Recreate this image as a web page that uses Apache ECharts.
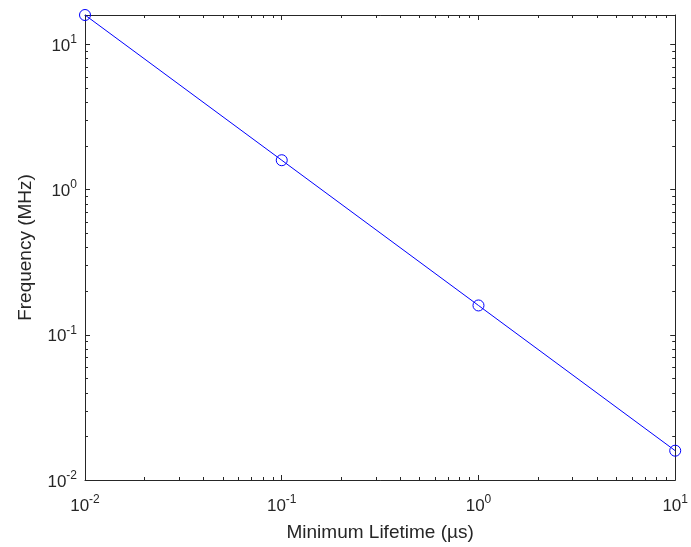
<!DOCTYPE html>
<html>
<head>
<meta charset="utf-8">
<script src="https://cdn.jsdelivr.net/npm/echarts@6/dist/echarts.min.js"></script>
<style>
  html, body { margin: 0; padding: 0; background: #fff; }
  #chart { width: 691px; height: 547px; }
</style>
</head>
<body>
<div id="chart"></div>
<script>
// data
var lifetimes = [0.01, 0.1, 1, 10];            // µs
var frequencies = [15.915, 1.5915, 0.15915, 0.015915]; // MHz
var xRange = [0.01, 10];
var yRange = [0.01, 15.915];

var axisColor = '#262626';
var fontFam = '"Liberation Sans", Arial, sans-serif';

// label like 10^-2 with a raised exponent
function powLabel(v) {
  var e = Math.log10(v);
  if (Math.abs(e - Math.round(e)) > 1e-6) return '';
  return '{b|10}{s|' + Math.round(e) + '}';
}
var richLabel = {
  b: { fontSize: 17, color: axisColor, fontFamily: fontFam, verticalAlign: 'bottom' },
  s: { fontSize: 12, color: axisColor, fontFamily: fontFam, verticalAlign: 'bottom', padding: [0, 0, 9, 0] }
};

function logAxis(extra) {
  var base = {
    type: 'log',
    logBase: 10,
    axisLine: { show: true, onZero: false, lineStyle: { color: axisColor, width: 1 } },
    axisTick: { show: true, inside: true, length: 5, lineStyle: { color: axisColor, width: 1 } },
    splitLine: { show: false },
    minorTick: { show: false },
    axisLabel: { show: false }
  };
  for (var k in extra) base[k] = extra[k];
  return base;
}

var chart = echarts.init(document.getElementById('chart'));

var option = {
  animation: false,
  backgroundColor: '#fff',
  grid: { left: 85, right: 15, top: 15, bottom: 66, containLabel: false },
  xAxis: [
    logAxis({
      min: xRange[0], max: xRange[1], position: 'bottom',
      name: 'Minimum Lifetime (µs)', nameLocation: 'middle', nameGap: 43,
      nameTextStyle: { fontSize: 19, color: axisColor, fontFamily: fontFam },
      axisLabel: { show: true, margin: 14, formatter: powLabel, rich: richLabel }
    }),
    logAxis({ min: xRange[0], max: xRange[1], position: 'top' })
  ],
  yAxis: [
    logAxis({
      min: yRange[0], max: yRange[1], position: 'left',
      name: 'Frequency (MHz)', nameLocation: 'middle', nameGap: 50,
      nameTextStyle: { fontSize: 19, color: axisColor, fontFamily: fontFam },
      axisLabel: { show: true, margin: 8, formatter: powLabel, rich: richLabel }
    }),
    logAxis({ min: yRange[0], max: yRange[1], position: 'right' })
  ],
  series: [{
    type: 'line',
    data: lifetimes.map(function (t, i) { return [t, frequencies[i]]; }),
    symbol: 'circle',
    symbolSize: 11,
    clip: false,
    lineStyle: { color: '#0000ff', width: 1 },
    itemStyle: { color: 'rgba(0,0,0,0)', borderColor: '#0000ff', borderWidth: 1 }
  }]
};
chart.setOption(option);

// minor ticks 2..9 per decade, on all four sides, pointing inward
function minorValues(lo, hi) {
  var out = [];
  for (var d = Math.floor(Math.log10(lo)); d <= Math.ceil(Math.log10(hi)); d++) {
    for (var k = 2; k <= 9; k++) {
      var v = k * Math.pow(10, d);
      if (v > lo && v < hi) out.push(v);
    }
  }
  return out;
}
var gridRect = chart.getModel().getComponent('grid').coordinateSystem.getRect();
var ticks = [];
var len = 3;
var tickStyle = { stroke: axisColor, lineWidth: 1 };
minorValues(xRange[0], xRange[1]).forEach(function (v) {
  var x = Math.round(chart.convertToPixel({ xAxisIndex: 0 }, v)) + 0.5;
  var yb = gridRect.y + gridRect.height, yt = gridRect.y;
  ticks.push({ type: 'line', silent: true, shape: { x1: x, y1: yb, x2: x, y2: yb - len }, style: tickStyle });
  ticks.push({ type: 'line', silent: true, shape: { x1: x, y1: yt, x2: x, y2: yt + len }, style: tickStyle });
});
minorValues(yRange[0], yRange[1]).forEach(function (v) {
  var y = Math.round(chart.convertToPixel({ yAxisIndex: 0 }, v)) + 0.5;
  var xl = gridRect.x, xr = gridRect.x + gridRect.width;
  ticks.push({ type: 'line', silent: true, shape: { x1: xl, y1: y, x2: xl + len, y2: y }, style: tickStyle });
  ticks.push({ type: 'line', silent: true, shape: { x1: xr, y1: y, x2: xr - len, y2: y }, style: tickStyle });
});
chart.setOption({ graphic: ticks });
</script>
</body>
</html>
